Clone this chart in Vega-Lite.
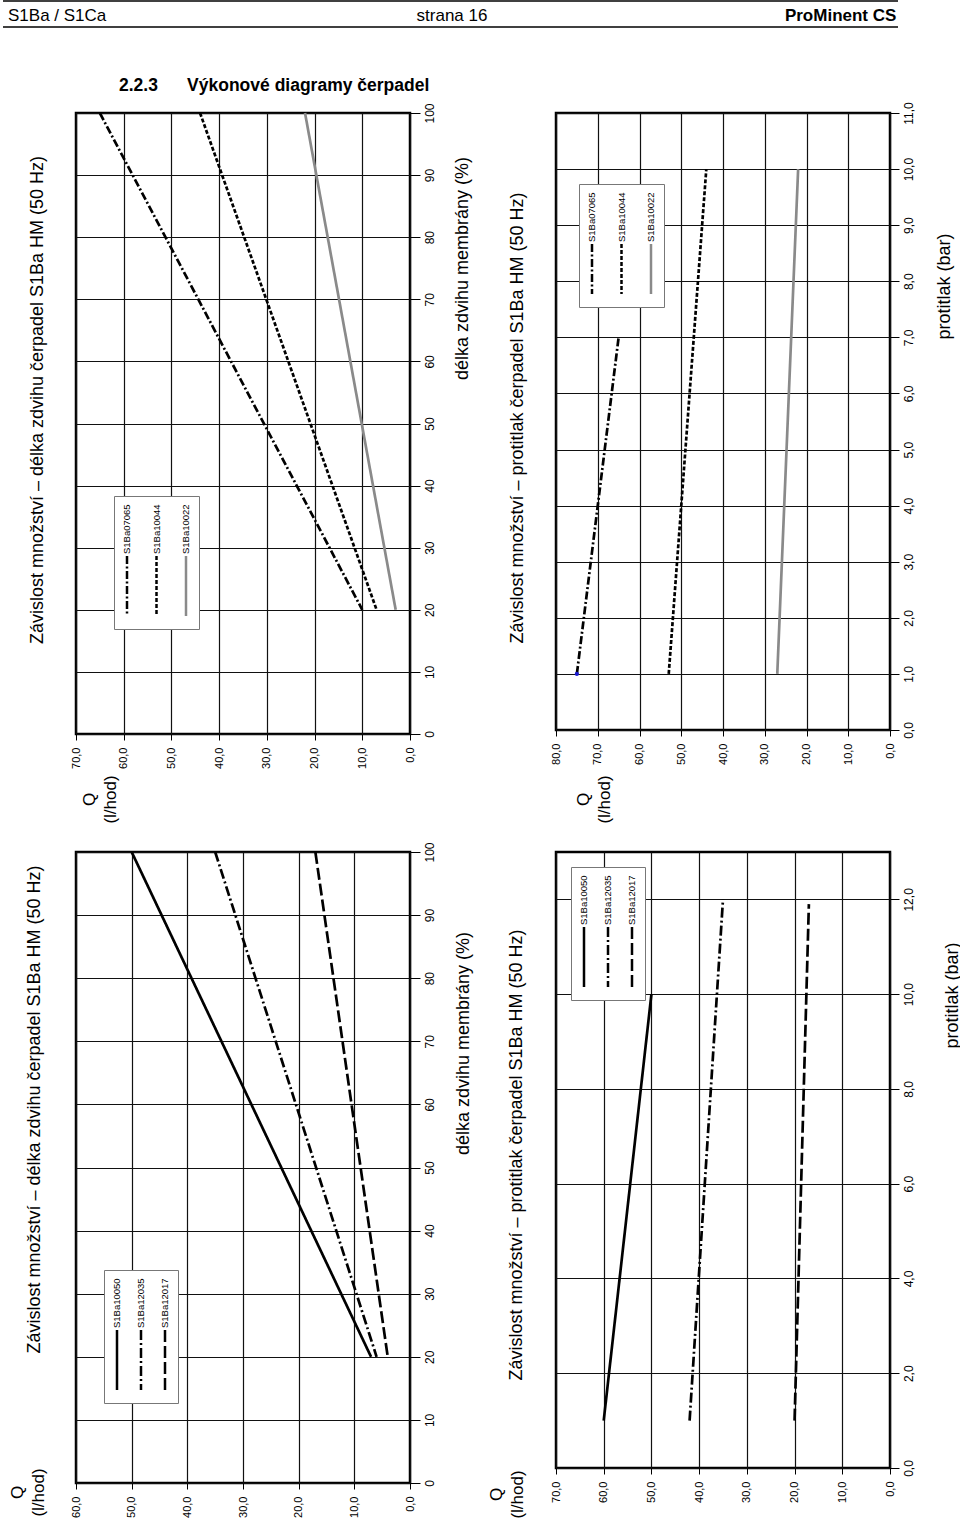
{
  "$schema": "https://vega.github.io/schema/vega-lite/v6.json",
  "padding": {"left": 2, "top": 0, "right": 10, "bottom": 10},
  "background": "white",
  "config": {
    "font": "Liberation Sans",
    "view": {"stroke": "black", "strokeWidth": 2.5},
    "axis": {"grid": true, "gridColor": "#111111", "gridOpacity": 1, "gridWidth": 1.2, "domain": false, "tickColor": "black", "tickWidth": 1, "labelColor": "black", "titleColor": "black", "labelFont": "Liberation Sans", "titleFont": "Liberation Sans", "titleFontWeight": "normal", "labelFlush": false, "labelOverlap": false},
    "title": {"font": "Liberation Sans", "color": "black", "fontWeight": "normal"},
    "legend": {"padding": 8, "strokeColor": "#777777", "fillColor": "white", "symbolType": "stroke", "symbolStrokeWidth": 2.5, "labelFont": "Liberation Sans", "labelFontSize": 9.5, "labelColor": "black", "rowPadding": 0, "cornerRadius": 0}
  },
  "datasets": {
    "tl": [
      {"series": "S1Ba07065", "zdvih": 20, "Q": 10}, {"series": "S1Ba07065", "zdvih": 100, "Q": 65},
      {"series": "S1Ba10044", "zdvih": 20, "Q": 7}, {"series": "S1Ba10044", "zdvih": 100, "Q": 44},
      {"series": "S1Ba10022", "zdvih": 20, "Q": 3}, {"series": "S1Ba10022", "zdvih": 100, "Q": 22}
    ],
    "tr": [
      {"series": "S1Ba07065", "protitlak": 1, "Q": 75}, {"series": "S1Ba07065", "protitlak": 7, "Q": 65},
      {"series": "S1Ba10044", "protitlak": 1, "Q": 53}, {"series": "S1Ba10044", "protitlak": 10, "Q": 44},
      {"series": "S1Ba10022", "protitlak": 1, "Q": 27}, {"series": "S1Ba10022", "protitlak": 10, "Q": 22}
    ],
    "bl": [
      {"series": "S1Ba10050", "zdvih": 20, "Q": 7}, {"series": "S1Ba10050", "zdvih": 100, "Q": 50},
      {"series": "S1Ba12035", "zdvih": 20, "Q": 6}, {"series": "S1Ba12035", "zdvih": 100, "Q": 35},
      {"series": "S1Ba12017", "zdvih": 20, "Q": 4}, {"series": "S1Ba12017", "zdvih": 100, "Q": 17}
    ],
    "br": [
      {"series": "S1Ba10050", "protitlak": 1, "Q": 60}, {"series": "S1Ba10050", "protitlak": 10, "Q": 50},
      {"series": "S1Ba12035", "protitlak": 1, "Q": 42}, {"series": "S1Ba12035", "protitlak": 12, "Q": 35},
      {"series": "S1Ba12017", "protitlak": 1, "Q": 20}, {"series": "S1Ba12017", "protitlak": 11.9, "Q": 17}
    ]
  },
  "spacing": 49,
  "vconcat": [
    {
      "width": 822, "height": 26,
      "view": {"stroke": null},
      "data": {"values": [{"doc": "S1Ba / S1Ca", "page": "strana 16", "brand": "ProMinent CS"}]},
      "layer": [
        {"mark": {"type": "rule", "color": "black", "strokeWidth": 1.5},
         "encoding": {"x": {"datum": -0.0888, "type": "quantitative", "scale": {"domain": [0, 1], "nice": false, "zero": false}, "axis": null}, "x2": {"datum": 1}, "y": {"datum": 1, "type": "quantitative", "scale": {"domain": [0, 1], "nice": false, "zero": false}, "axis": null}}},
        {"mark": {"type": "rule", "color": "black", "strokeWidth": 1.5},
         "encoding": {"x": {"datum": -0.0888, "type": "quantitative", "axis": null}, "x2": {"datum": 1}, "y": {"datum": 0, "type": "quantitative", "axis": null}}},
        {"mark": {"type": "text", "align": "left", "baseline": "alphabetic", "fontSize": 17, "font": "Liberation Sans", "color": "black"},
         "encoding": {"x": {"datum": -0.0827, "type": "quantitative", "axis": null}, "y": {"datum": 0.23, "type": "quantitative", "axis": null}, "text": {"field": "doc"}}},
        {"mark": {"type": "text", "align": "center", "baseline": "alphabetic", "fontSize": 17, "font": "Liberation Sans", "color": "black"},
         "encoding": {"x": {"datum": 0.4574, "type": "quantitative", "axis": null}, "y": {"datum": 0.23, "type": "quantitative", "axis": null}, "text": {"field": "page"}}},
        {"mark": {"type": "text", "align": "right", "baseline": "alphabetic", "fontSize": 17, "fontWeight": "bold", "font": "Liberation Sans", "color": "black"},
         "encoding": {"x": {"datum": 0.998, "type": "quantitative", "axis": null}, "y": {"datum": 0.23, "type": "quantitative", "axis": null}, "text": {"field": "brand"}}}
      ]
    },
    {
      "columns": 2,
      "bounds": "flush",
      "spacing": {"row": 118, "column": 146},
      "resolve": {"scale": {"color": "independent", "strokeDash": "independent"}, "legend": {"color": "independent", "strokeDash": "independent"}},
      "title": {"text": "2.2.3\u00a0\u00a0\u00a0\u00a0\u00a0\u00a0Výkonové diagramy čerpadel", "orient": "top", "anchor": "start", "frame": "group", "dx": 43, "offset": 6, "fontSize": 17.5, "fontWeight": "bold", "font": "Liberation Sans", "color": "black"},
      "concat": [
        {
          "width": 334, "height": 621,
          "title": {"text": "Závislost množství – délka zdvihu čerpadel S1Ba HM (50 Hz)", "orient": "left", "anchor": "middle", "frame": "group", "offset": 23, "dx": 23.5, "fontSize": 18},
          "data": {"name": "tl"},
          "layer": [
            {
              "mark": {"type": "line", "strokeWidth": 2.7},
              "encoding": {
                "x": {"field": "Q", "type": "quantitative", "scale": {"domain": [0, 70], "reverse": true, "nice": false, "zero": false},
                  "axis": {"orient": "bottom", "values": [0, 10, 20, 30, 40, 50, 60, 70], "labelExpr": "replace(format(datum.value, '.1f'), '.', ',')", "labelAngle": -90, "labelAlign": "right", "labelBaseline": "middle", "labelFontSize": 11, "labelPadding": 7, "tickSize": 6,
                    "title": ["Q", "(l/hod)"], "titleAngle": -90, "titleAlign": "center", "titleBaseline": "middle", "titleFontSize": 17, "titleLineHeight": 21, "titleX": 13.5, "titleY": 65}},
                "y": {"field": "zdvih", "type": "quantitative", "scale": {"domain": [0, 100], "nice": false, "zero": false},
                  "axis": {"orient": "right", "values": [0, 10, 20, 30, 40, 50, 60, 70, 80, 90, 100], "labelAngle": -90, "labelAlign": "center", "labelBaseline": "top", "labelFontSize": 12, "labelPadding": 4, "tickSize": 10,
                    "title": "délka zdvihu membrány (%)", "titleAngle": -90, "titleAlign": "center", "titleBaseline": "middle", "titleFontSize": 18, "titleX": 52, "titleY": 155}},
                "color": {"field": "series", "type": "nominal", "scale": {"domain": ["S1Ba07065", "S1Ba10044", "S1Ba10022"], "range": ["black", "black", "#8a8a8a"]},
                  "legend": {"orient": "none", "legendX": 38, "legendY": 383, "direction": "horizontal", "columns": 3, "title": null, "columnPadding": 17.5, "symbolSize": 3600,
                    "encoding": {"symbols": {"angle": {"value": 90}, "x": {"value": 5}, "y": {"value": 82}}, "labels": {"angle": {"value": -90}, "x": {"value": 5}, "y": {"value": 50}, "align": {"value": "left"}, "baseline": {"value": "middle"}}}}},
                "strokeDash": {"field": "series", "type": "nominal", "scale": {"domain": ["S1Ba07065", "S1Ba10044", "S1Ba10022"], "range": [[8, 2.5, 2, 2.5], [4, 2], [1, 0]]},
                  "legend": {"orient": "none", "legendX": 38, "legendY": 383, "direction": "horizontal", "columns": 3, "title": null, "columnPadding": 17.5, "symbolSize": 3600,
                    "encoding": {"symbols": {"angle": {"value": 90}, "x": {"value": 5}, "y": {"value": 82}}, "labels": {"angle": {"value": -90}, "x": {"value": 5}, "y": {"value": 50}, "align": {"value": "left"}, "baseline": {"value": "middle"}}}}}
              }
            }
          ]
        },
        {
          "width": 334, "height": 617,
          "title": {"text": "Závislost množství – protitlak čerpadel S1Ba HM (50 Hz)", "orient": "left", "anchor": "middle", "frame": "group", "offset": 23, "dx": 3.5, "fontSize": 18},
          "data": {"name": "tr"},
          "layer": [
            {
              "mark": {"type": "line", "strokeWidth": 2.7},
              "encoding": {
                "x": {"field": "Q", "type": "quantitative", "scale": {"domain": [0, 80], "reverse": true, "nice": false, "zero": false},
                  "axis": {"orient": "bottom", "values": [0, 10, 20, 30, 40, 50, 60, 70, 80], "labelExpr": "replace(format(datum.value, '.1f'), '.', ',')", "labelAngle": -90, "labelAlign": "right", "labelBaseline": "middle", "labelFontSize": 11, "labelPadding": 7, "tickSize": 6,
                    "title": ["Q", "(l/hod)"], "titleAngle": -90, "titleAlign": "center", "titleBaseline": "middle", "titleFontSize": 17, "titleLineHeight": 21, "titleX": 27, "titleY": 69}},
                "y": {"field": "protitlak", "type": "quantitative", "scale": {"domain": [0, 11], "nice": false, "zero": false},
                  "axis": {"orient": "right", "values": [0, 1, 2, 3, 4, 5, 6, 7, 8, 9, 10, 11], "labelExpr": "replace(format(datum.value, '.1f'), '.', ',')", "labelAngle": -90, "labelAlign": "center", "labelBaseline": "top", "labelFontSize": 12, "labelPadding": 4, "tickSize": 9,
                    "title": "protitlak (bar)", "titleAngle": -90, "titleAlign": "center", "titleBaseline": "middle", "titleFontSize": 18, "titleX": 54, "titleY": 173}},
                "color": {"field": "series", "type": "nominal", "scale": {"domain": ["S1Ba07065", "S1Ba10044", "S1Ba10022"], "range": ["black", "black", "#8a8a8a"]},
                  "legend": {"orient": "none", "legendX": 23, "legendY": 71, "direction": "horizontal", "columns": 3, "title": null, "columnPadding": 17.5, "symbolSize": 2500,
                    "encoding": {"symbols": {"angle": {"value": 90}, "x": {"value": 5}, "y": {"value": 77}}, "labels": {"angle": {"value": -90}, "x": {"value": 5}, "y": {"value": 50}, "align": {"value": "left"}, "baseline": {"value": "middle"}}}}},
                "strokeDash": {"field": "series", "type": "nominal", "scale": {"domain": ["S1Ba07065", "S1Ba10044", "S1Ba10022"], "range": [[8, 2.5, 2, 2.5], [4, 2], [1, 0]]},
                  "legend": {"orient": "none", "legendX": 23, "legendY": 71, "direction": "horizontal", "columns": 3, "title": null, "columnPadding": 17.5, "symbolSize": 2500,
                    "encoding": {"symbols": {"angle": {"value": 90}, "x": {"value": 5}, "y": {"value": 77}}, "labels": {"angle": {"value": -90}, "x": {"value": 5}, "y": {"value": 50}, "align": {"value": "left"}, "baseline": {"value": "middle"}}}}}
              }
            },
            {
              "transform": [{"filter": "datum.series == 'S1Ba07065' && datum.protitlak == 1"}],
              "mark": {"type": "point", "filled": true, "color": "#1a1ad0", "size": 18, "opacity": 1},
              "encoding": {
                "x": {"field": "Q", "type": "quantitative"},
                "y": {"field": "protitlak", "type": "quantitative"}
              }
            }
          ]
        },
        {
          "width": 334, "height": 631,
          "title": {"text": "Závislost množství – délka zdvihu čerpadel S1Ba HM (50 Hz)", "orient": "left", "anchor": "middle", "frame": "group", "offset": -36, "dx": 58, "fontSize": 18},
          "data": {"name": "bl"},
          "layer": [
            {
              "mark": {"type": "line", "strokeWidth": 2.7},
              "encoding": {
                "x": {"field": "Q", "type": "quantitative", "scale": {"domain": [0, 60], "reverse": true, "nice": false, "zero": false},
                  "axis": {"orient": "bottom", "values": [0, 10, 20, 30, 40, 50, 60], "labelExpr": "replace(format(datum.value, '.1f'), '.', ',')", "labelAngle": -90, "labelAlign": "right", "labelBaseline": "middle", "labelFontSize": 11, "labelPadding": 7, "tickSize": 6,
                    "title": ["Q", "(l/hod)"], "titleAngle": -90, "titleAlign": "center", "titleBaseline": "middle", "titleFontSize": 17, "titleLineHeight": 21, "titleX": -59, "titleY": 9}},
                "y": {"field": "zdvih", "type": "quantitative", "scale": {"domain": [0, 100], "nice": false, "zero": false},
                  "axis": {"orient": "right", "values": [0, 10, 20, 30, 40, 50, 60, 70, 80, 90, 100], "labelAngle": -90, "labelAlign": "center", "labelBaseline": "top", "labelFontSize": 12, "labelPadding": 4, "tickSize": 10,
                    "title": "délka zdvihu membrány (%)", "titleAngle": -90, "titleAlign": "center", "titleBaseline": "middle", "titleFontSize": 18, "titleX": 53, "titleY": 191}},
                "color": {"field": "series", "type": "nominal", "scale": {"domain": ["S1Ba10050", "S1Ba12035", "S1Ba12017"], "range": ["black", "black", "black"]},
                  "legend": {"orient": "none", "legendX": 28, "legendY": 418, "direction": "horizontal", "columns": 3, "title": null, "columnPadding": 12, "symbolSize": 3600,
                    "encoding": {"symbols": {"angle": {"value": 90}, "x": {"value": 5}, "y": {"value": 82}}, "labels": {"angle": {"value": -90}, "x": {"value": 5}, "y": {"value": 50}, "align": {"value": "left"}, "baseline": {"value": "middle"}}}}},
                "strokeDash": {"field": "series", "type": "nominal", "scale": {"domain": ["S1Ba10050", "S1Ba12035", "S1Ba12017"], "range": [[1, 0], [10, 3, 2, 3], [12, 4]]},
                  "legend": {"orient": "none", "legendX": 28, "legendY": 418, "direction": "horizontal", "columns": 3, "title": null, "columnPadding": 12, "symbolSize": 3600,
                    "encoding": {"symbols": {"angle": {"value": 90}, "x": {"value": 5}, "y": {"value": 82}}, "labels": {"angle": {"value": -90}, "x": {"value": 5}, "y": {"value": 50}, "align": {"value": "left"}, "baseline": {"value": "middle"}}}}}
              }
            }
          ]
        },
        {
          "width": 334, "height": 616,
          "title": {"text": "Závislost množství – protitlak čerpadel S1Ba HM (50 Hz)", "orient": "left", "anchor": "middle", "frame": "group", "offset": -38, "dx": 5, "fontSize": 18},
          "data": {"name": "br"},
          "layer": [
            {
              "mark": {"type": "line", "strokeWidth": 2.7},
              "encoding": {
                "x": {"field": "Q", "type": "quantitative", "scale": {"domain": [0, 70], "reverse": true, "nice": false, "zero": false},
                  "axis": {"orient": "bottom", "values": [0, 10, 20, 30, 40, 50, 60, 70], "labelExpr": "replace(format(datum.value, '.1f'), '.', ',')", "labelAngle": -90, "labelAlign": "right", "labelBaseline": "middle", "labelFontSize": 11, "labelPadding": 7, "tickSize": 6,
                    "title": ["Q", "(l/hod)"], "titleAngle": -90, "titleAlign": "center", "titleBaseline": "middle", "titleFontSize": 17, "titleLineHeight": 21, "titleX": -59.5, "titleY": 26}},
                "y": {"field": "protitlak", "type": "quantitative", "scale": {"domain": [0, 13], "nice": false, "zero": false},
                  "axis": {"orient": "right", "values": [0, 2, 4, 6, 8, 10, 12], "labelExpr": "replace(format(datum.value, '.1f'), '.', ',')", "labelAngle": -90, "labelAlign": "center", "labelBaseline": "top", "labelFontSize": 12, "labelPadding": 4, "tickSize": 9,
                    "title": "protitlak (bar)", "titleAngle": -90, "titleAlign": "center", "titleBaseline": "middle", "titleFontSize": 18, "titleX": 62, "titleY": 143}},
                "color": {"field": "series", "type": "nominal", "scale": {"domain": ["S1Ba10050", "S1Ba12035", "S1Ba12017"], "range": ["black", "black", "black"]},
                  "legend": {"orient": "none", "legendX": 15, "legendY": 15, "direction": "horizontal", "columns": 3, "title": null, "columnPadding": 12, "symbolSize": 3600,
                    "encoding": {"symbols": {"angle": {"value": 90}, "x": {"value": 5}, "y": {"value": 82}}, "labels": {"angle": {"value": -90}, "x": {"value": 5}, "y": {"value": 50}, "align": {"value": "left"}, "baseline": {"value": "middle"}}}}},
                "strokeDash": {"field": "series", "type": "nominal", "scale": {"domain": ["S1Ba10050", "S1Ba12035", "S1Ba12017"], "range": [[1, 0], [10, 3, 2, 3], [12, 4]]},
                  "legend": {"orient": "none", "legendX": 15, "legendY": 15, "direction": "horizontal", "columns": 3, "title": null, "columnPadding": 12, "symbolSize": 3600,
                    "encoding": {"symbols": {"angle": {"value": 90}, "x": {"value": 5}, "y": {"value": 82}}, "labels": {"angle": {"value": -90}, "x": {"value": 5}, "y": {"value": 50}, "align": {"value": "left"}, "baseline": {"value": "middle"}}}}}
              }
            }
          ]
        }
      ]
    }
  ]
}
